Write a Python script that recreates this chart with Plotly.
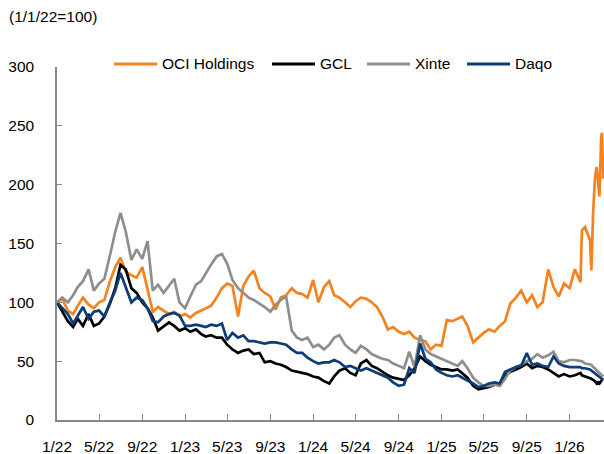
import plotly.graph_objects as go

# ---- sample dates (semi-monthly through Feb 2026, then finer for the final spike) ----
semi_monthly = [f"{y}-{m:02d}-{d:02d}" for y in range(2022, 2027) for m in range(1, 13) for d in (1, 16)]
dates = semi_monthly[:99] + [
    "2026-02-05", "2026-02-14", "2026-02-28", "2026-03-04", "2026-03-09", "2026-03-14",
    "2026-03-19", "2026-03-23", "2026-03-27", "2026-04-01", "2026-04-03", "2026-04-07",
]

oci = [100, 103, 93, 90, 97, 104, 98, 95, 100, 102, 118, 130, 138, 126, 123, 121, 130, 112, 92, 96,
       93, 90, 92, 88, 90, 87, 91, 93, 95, 97, 104, 112, 116, 114, 88, 114, 122, 127, 112, 108,
       105, 94, 104, 106, 112, 108, 107, 104, 119, 100, 113, 118, 106, 104, 100, 96, 101, 104, 103, 100,
       96, 88, 77, 79, 75, 73, 75, 70, 68, 67, 60, 64, 63, 85, 84, 86, 88, 80, 66, 70,
       74, 77, 75, 80, 84, 99, 104, 110, 100, 106, 96, 100, 128, 113, 105, 116, 112, 128, 117,
       161, 164, 153, 127, 176, 205, 215, 198, 190, 240, 244, 205]

gcl = [100, 92, 84, 79, 86, 80, 90, 80, 82, 88, 99, 112, 132, 128, 112, 108, 100, 95, 87, 76,
       80, 83, 80, 76, 78, 75, 77, 73, 71, 72, 70, 70, 64, 60, 57, 59, 60, 56, 57, 49,
       50, 48, 47, 45, 42, 41, 40, 39, 37, 36, 33, 31, 37, 42, 44, 40, 38, 48, 51, 46,
       44, 41, 38, 36, 35, 34, 38, 44, 54, 50, 47, 45, 43, 43, 42, 43, 40, 36, 29, 26,
       27, 28, 30, 31, 38, 41, 43, 45, 48, 44, 46, 45, 43, 40, 37, 39, 37, 38, 40,
       38, 37, 36, 35, 34, 33, 31, 32, 31, 33, 34, 34]

xinte = [100, 104, 100, 106, 113, 118, 128, 110, 116, 120, 140, 160, 176, 160, 136, 145, 137, 152, 110, 115,
         108, 114, 120, 100, 95, 105, 115, 118, 125, 132, 139, 141, 133, 119, 112, 108, 104, 102, 99, 96,
         92, 98, 102, 105, 76, 70, 68, 70, 62, 64, 60, 64, 70, 72, 64, 60, 57, 63, 60, 56,
         54, 52, 51, 48, 46, 44, 58, 45, 72, 60, 56, 54, 52, 50, 48, 46, 50, 44, 36, 32,
         29, 29, 30, 29, 35, 42, 45, 47, 50, 52, 56, 53, 55, 58, 50, 49, 51, 51, 50,
         50, 48, 47, 47, 45, 44, 42, 41, 40, 39, 38, 37]

daqo = [100, 95, 90, 82, 88, 96, 86, 92, 93, 88, 100, 110, 125, 113, 100, 104, 102, 95, 84, 83,
        88, 90, 91, 89, 80, 80, 81, 80, 79, 81, 80, 82, 68, 74, 70, 72, 67, 67, 66, 65,
        66, 66, 65, 64, 60, 57, 57, 53, 50, 48, 49, 49, 51, 49, 45, 46, 44, 42, 44, 42,
        40, 38, 36, 32, 29, 30, 44, 40, 65, 52, 49, 43, 40, 38, 37, 38, 36, 34, 31, 28,
        29, 31, 32, 31, 41, 43, 45, 46, 57, 47, 48, 46, 45, 54, 48, 46, 45, 45, 45,
        44, 44, 43, 42, 41, 40, 38, 37, 36, 35, 35, 34]

series_names = ["OCI Holdings", "GCL", "Xinte", "Daqo"]
series_values = [oci, gcl, xinte, daqo]
series_colors = ["#F5821F", "#000000", "#8E8E8E", "#0B3D77"]

tick_dates = ["2022-01-01", "2022-05-01", "2022-09-01", "2023-01-01", "2023-05-01", "2023-09-01",
              "2024-01-01", "2024-05-01", "2024-09-01", "2025-01-01", "2025-05-01", "2025-09-01",
              "2026-01-01"]
tick_labels = ["1/22", "5/22", "9/22", "1/23", "5/23", "9/23", "1/24", "5/24", "9/24",
               "1/25", "5/25", "9/25", "1/26"]
y_ticks = [0, 50, 100, 150, 200, 250, 300]

FONT = "Liberation Sans, Arial, sans-serif"
W, H = 604, 454
L, R, T, B = 57, 0, 67, 34
pw, ph = W - L - R, H - T - B


def px_x(x):  # reference pixel -> paper x
    return (x - L) / pw


def px_y(y):  # reference pixel -> paper y
    return (H - B - y) / ph


fig = go.Figure()
for name, vals, col in zip(series_names, series_values, series_colors):
    fig.add_trace(go.Scatter(x=dates, y=vals, name=name, mode="lines",
                             line=dict(color=col, width=2.7), showlegend=False))

# manual legend (line segment + label) placed like the reference
legend_pos = [(114, 157, 160), (272, 315, 318), (367, 410, 413), (467, 510, 513)]
ly = 64
for (x0, x1, xt), name, col in zip(legend_pos, series_names, series_colors):
    fig.add_shape(type="line", xref="paper", yref="paper",
                  x0=px_x(x0), x1=px_x(x1), y0=px_y(ly), y1=px_y(ly),
                  line=dict(color=col, width=3))
    fig.add_annotation(xref="paper", yref="paper", x=px_x(xt), y=px_y(ly),
                       text=name, showarrow=False, xanchor="left", yanchor="middle",
                       font=dict(family=FONT, size=15.5, color="black"))

fig.add_annotation(xref="paper", yref="paper", x=px_x(7), y=px_y(17),
                   text="(1/1/22=100)", showarrow=False, xanchor="left", yanchor="middle",
                   font=dict(family=FONT, size=15.5, color="black"))

fig.update_layout(
    width=W, height=H,
    margin=dict(l=L, r=R, t=T, b=B, pad=0, autoexpand=False),
    paper_bgcolor="white", plot_bgcolor="white",
    font=dict(family=FONT, size=15.5, color="black"),
    showlegend=False,
)
fig.update_xaxes(
    type="date", range=["2022-01-01", "2026-04-09"], automargin=False,
    tickmode="array", tickvals=tick_dates, ticktext=tick_labels,
    ticks="inside", ticklen=6, tickcolor="#888888", tickwidth=1.3,
    showline=True, linecolor="#888888", linewidth=1.5,
    showgrid=False, zeroline=False, ticklabelstandoff=12,
)
fig.update_yaxes(
    range=[0, 300], tickmode="array", tickvals=y_ticks, automargin=False,
    ticks="inside", ticklen=5, tickcolor="#888888", tickwidth=1.3,
    showline=True, linecolor="#888888", linewidth=1.5,
    showgrid=False, zeroline=False, ticklabelstandoff=18,
)

# remove the page's default body margin so the 604x454 figure fills the window exactly
fig.write_html(
    "out.html",
    config={"displayModeBar": False},
    post_script=("document.body.style.margin='0';"
                 "document.documentElement.style.overflow='hidden';"
                 "document.body.style.overflow='hidden';"),
)
